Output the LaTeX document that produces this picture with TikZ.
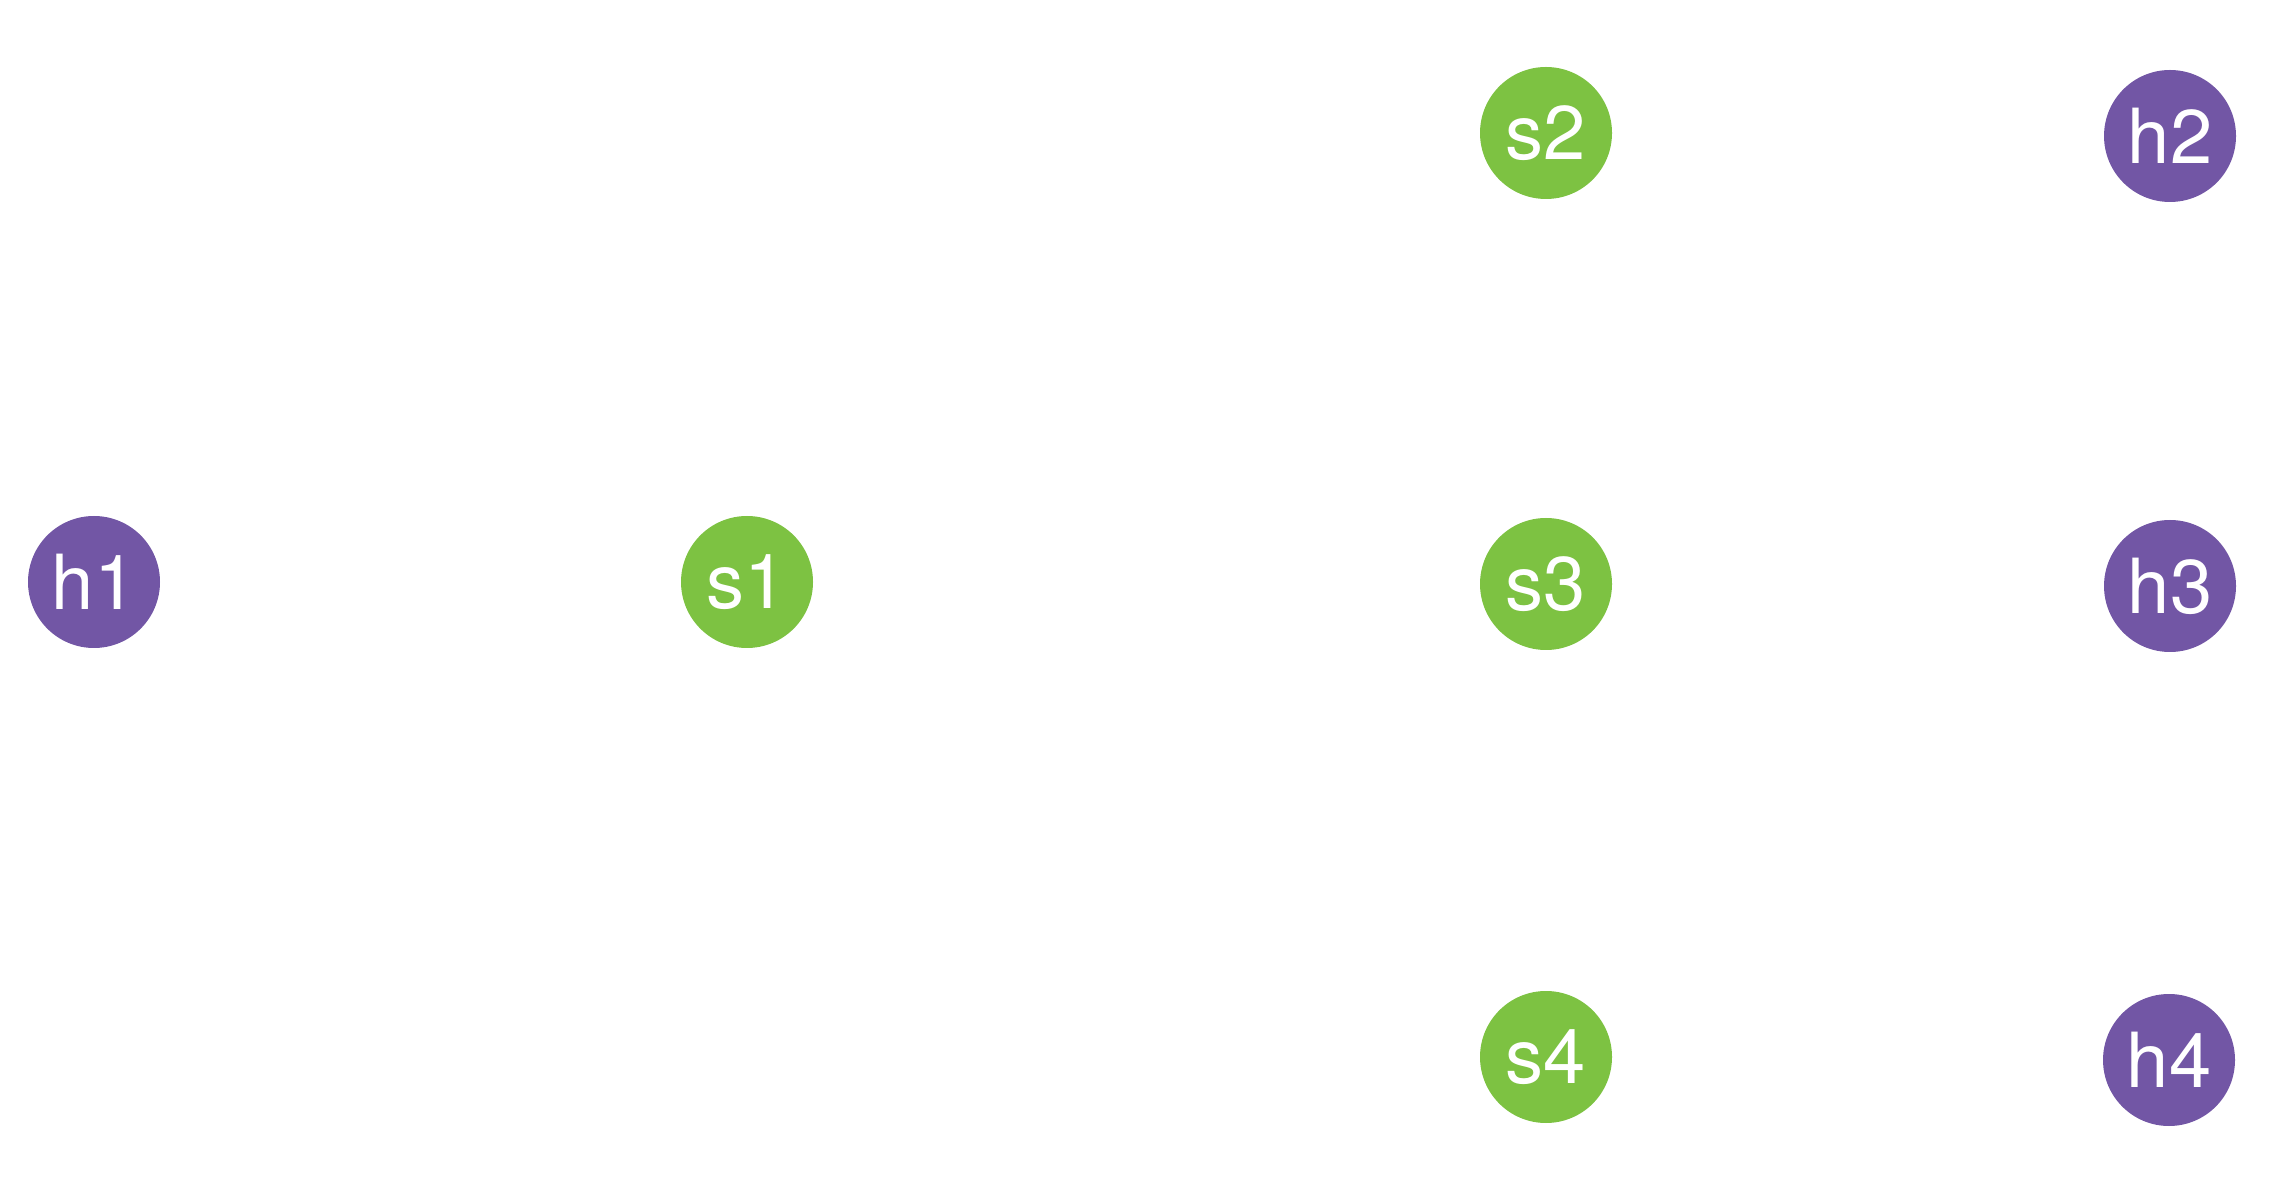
\documentclass[tikz,border=0pt]{standalone}
\usepackage{fontspec}
\setmainfont{TeX Gyre Heros}
\definecolor{hostpurple}{HTML}{7256A5}
\definecolor{switchgreen}{HTML}{7DC242}
\begin{document}
\begin{tikzpicture}[x=0.5pt,y=-0.5pt,
  base/.style={circle,minimum size=66pt,inner sep=0pt,text=white,font=\fontsize{38}{40}\selectfont},
  host/.style={base,fill=hostpurple},
  switch/.style={base,fill=switchgreen}]
\useasboundingbox (0,0) rectangle (2270,1186);
\node[host] (h1) at (94,582) {h1};
\node[switch] (s1) at (747,582) {s1};
\node[switch] (s2) at (1546,133) {s2};
\node[switch] (s3) at (1546,584) {s3};
\node[switch] (s4) at (1546,1057) {s4};
\node[host] (h2) at (2170,136) {h2};
\node[host] (h3) at (2170,586) {h3};
\node[host] (h4) at (2169,1060) {h4};
\end{tikzpicture}
\end{document}
